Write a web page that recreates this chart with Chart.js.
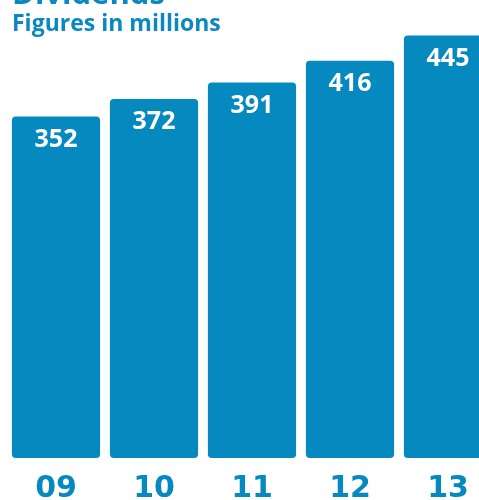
<!DOCTYPE html>
<html lang="en">

<head>
	<meta charset="UTF-8">
	<title>Dividends</title>
	<script src="https://cdn.jsdelivr.net/npm/chart.js"></script>
	<style>
		html, body { margin: 0; padding: 0; overflow: hidden; background: #fff; }
		#wrap { position: relative; width: 479px; height: 500px; overflow: hidden; }
		.head { position: absolute; left: 12px; margin: 0; color: #0a88c0; font-family: "Open Sans", sans-serif; font-weight: 700; white-space: nowrap; }
		#title { top: -23px; font-size: 31px; line-height: 31px; }
		#subtitle { top: 11px; font-size: 23px; line-height: 23px; }
		#box { position: absolute; left: 0; top: 0; width: 500px; height: 500px; }
	</style>
</head>

<body>
	<div id="wrap">
		<div id="box"><canvas id="bar-chart"></canvas></div>
		<h1 class="head" id="title">Dividends</h1>
		<h2 class="head" id="subtitle">Figures in millions</h2>
	</div>

	<script>
		const years = ['09', '10', '11', '12', '13'];
		const dividends = [352, 372, 391, 416, 445];
		const yMin = -40;
		const yMax = 465;

		const blue = '#0589bf';

		// white value printed just inside the top of every bar
		const valueLabels = {
			id: 'valueLabels',
			afterDatasetsDraw(chart) {
				const ctx = chart.ctx;
				const meta = chart.getDatasetMeta(0);
				ctx.save();
				ctx.fillStyle = '#ffffff';
				ctx.font = '700 25px "Open Sans"';
				ctx.textAlign = 'center';
				ctx.textBaseline = 'middle';
				meta.data.forEach((bar, i) => {
					ctx.fillText(String(dividends[i]), bar.x, bar.y + 23);
				});
				ctx.restore();
			}
		};

		const chart = new Chart(document.getElementById('bar-chart'), {
			type: 'bar',
			data: {
				labels: years,
				datasets: [{
					data: dividends,
					base: yMin,
					backgroundColor: blue,
					borderRadius: 4,
					borderSkipped: false,
					categoryPercentage: 1,
					barPercentage: 0.9
				}]
			},
			options: {
				responsive: true,
				maintainAspectRatio: false,
				animation: false,
				layout: {
					padding: { left: 7, right: 3, top: 18, bottom: 3 }
				},
				plugins: {
					legend: { display: false },
					tooltip: { enabled: false }
				},
				scales: {
					x: {
						grid: { display: false },
						border: { display: false },
						afterFit(scale) { scale.height = 39; },
						ticks: {
							color: blue,
							padding: 8,
							maxRotation: 0,
							font: { family: '"DejaVu Sans"', weight: 'bold', size: 30, lineHeight: 1 }
						}
					},
					y: {
						display: false,
						min: yMin,
						max: yMax
					}
				}
			},
			plugins: [valueLabels]
		});
	</script>
</body>

</html>
